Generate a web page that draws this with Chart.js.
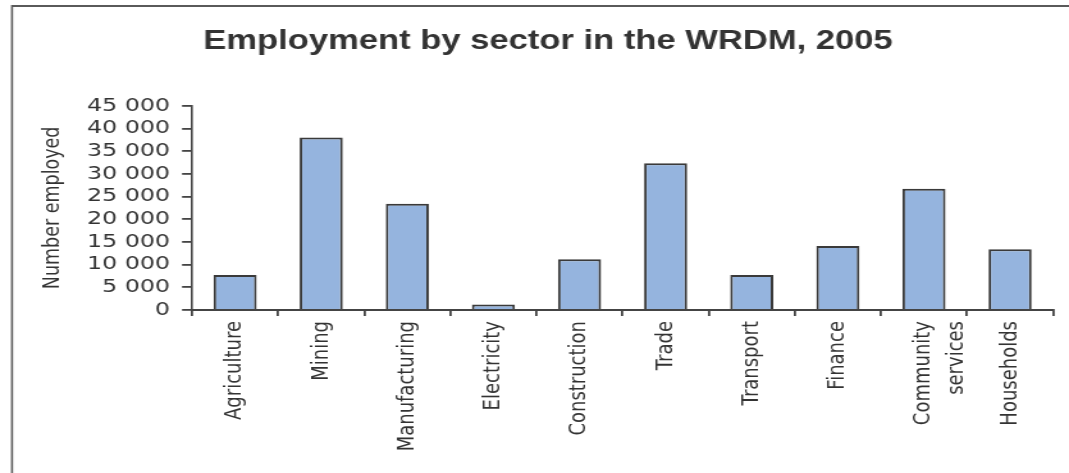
<!DOCTYPE html>
<html>
<head>
<meta charset="utf-8">
<script src="https://cdn.jsdelivr.net/npm/chart.js@4"></script>
<style>
  html, body { margin: 0; padding: 0; background: #fff; }
  #myChart { display: block; }
</style>
</head>
<body>
<!-- the lettering in the original is wide, so the canvas is drawn narrower and stretched -->
<canvas id="myChart" width="835" height="473" style="width:1069px;height:473px"></canvas>
<script>
const ctx = document.getElementById('myChart');

var sectores = ['Agriculture', 'Mining', 'Manufacturing', 'Electricity', 'Construction',
    'Trade', 'Transport', 'Finance', ['Community', 'services'], 'Households'];
var empleados = [7700, 38000, 23400, 1200, 11200, 32300, 7700, 14100, 26700, 13400];
var ticksY = [0, 5000, 10000, 15000, 20000, 25000, 30000, 35000, 40000, 45000];

var marco = {
    id: 'marco',
    beforeDraw(chart){
        var c = chart.ctx;
        c.save();
        c.fillStyle = '#5a5a5a';
        c.fillRect(9.4, 5, chart.width, 2);
        c.fillRect(8.6, 5, 1.6, chart.height);
        c.restore();
    }
};

function formato(v){
    return String(v).replace(/\B(?=(\d{3})+(?!\d))/g, ' ');
}

function drawChart(){
    var data = {
        type: 'bar',
        data: {
            labels: sectores,
            datasets: [{
                label: 'Number employed',
                data: empleados,
                backgroundColor: '#95b4de',
                borderColor: '#3a3a3a',
                borderWidth: 2,
                barPercentage: 0.5,
                categoryPercentage: 1
            }]
        },
        options: {
            responsive: false,
            devicePixelRatio: 1,
            animation: false,
            layout: { padding: { left: 33.4, right: 12.4, top: 0, bottom: 0 } },
            plugins: {
                legend: { display: false },
                tooltip: { enabled: false },
                title: {
                    display: true,
                    text: 'Employment by sector in the WRDM, 2005',
                    color: '#333',
                    font: { family: 'Liberation Sans, Arial, sans-serif', size: 27, weight: 'bold', lineHeight: 1.2 },
                    padding: { top: 25, bottom: 48.3 }
                }
            },
            scales: {
                x: {
                    grid: { drawOnChartArea: false, color: '#444', lineWidth: 1.8, tickLength: 6 },
                    border: { color: '#444', width: 2 },
                    ticks: {
                        autoSkip: false,
                        maxRotation: 90,
                        minRotation: 90,
                        padding: 5,
                        color: '#333',
                        font: { family: 'DejaVu Sans, sans-serif', size: 18, lineHeight: 1.45 }
                    },
                    afterFit(scale){ scale.height = 163; }
                },
                y: {
                    min: 0,
                    max: 45000,
                    afterBuildTicks(scale){ scale.ticks = ticksY.map(v => ({ value: v })); },
                    grid: { drawOnChartArea: false, color: '#444', lineWidth: 1.8, tickLength: 7.8 },
                    border: { color: '#444', width: 1.6 },
                    ticks: {
                        autoSkip: false,
                        padding: 9.4,
                        color: '#333',
                        font: { family: 'DejaVu Sans, sans-serif', size: 18.5 },
                        callback: (v) => formato(v)
                    },
                    title: {
                        display: true,
                        text: 'Number employed',
                        color: '#333',
                        font: { family: 'DejaVu Sans, sans-serif', size: 17.5, lineHeight: 1.2 },
                        padding: { top: -2, bottom: 0 }
                    },
                    afterFit(scale){ scale.width = 116.6; }
                }
            }
        },
        plugins: [marco]
    };

    var myChart = new Chart(ctx, data);
}

window.onload = ()=>{
    drawChart();
};
</script>
</body>
</html>
